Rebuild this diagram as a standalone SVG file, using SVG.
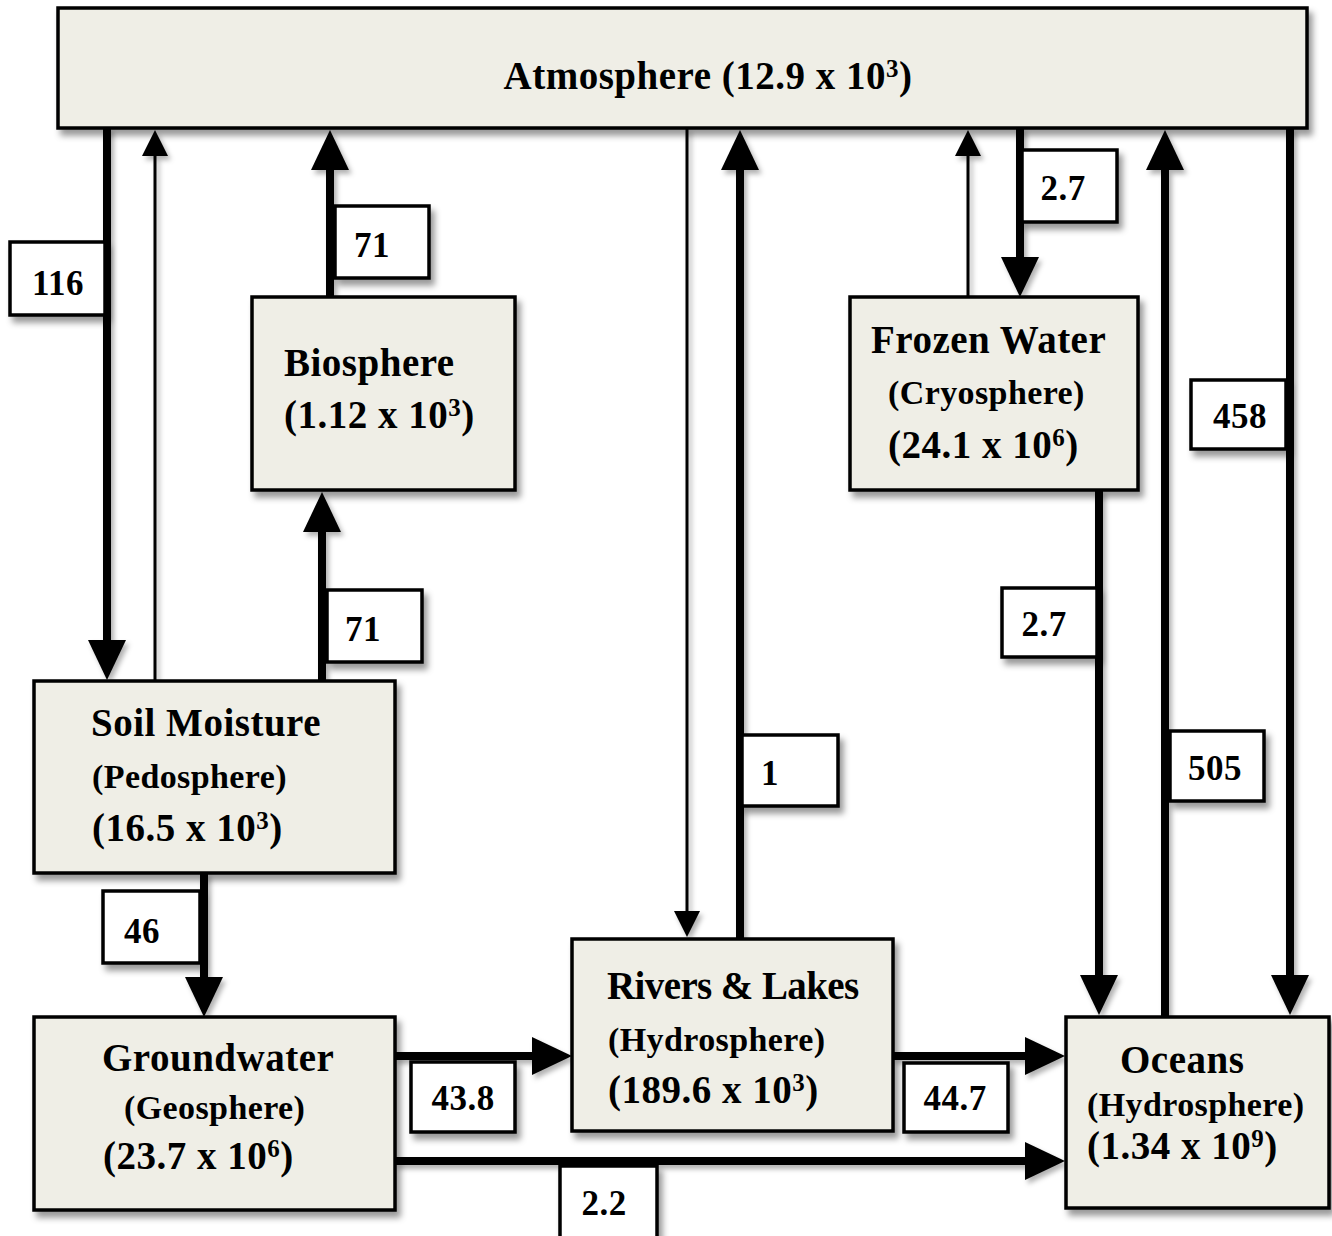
<svg xmlns="http://www.w3.org/2000/svg" width="1332" height="1236" viewBox="0 0 1332 1236">
<style>
.node{fill:#EFEEE6;stroke:#000;stroke-width:3.5}
.lbl{fill:#fff;stroke:#000;stroke-width:3.5}
.t{font-family:"Liberation Serif","DejaVu Serif",serif;font-weight:bold;fill:#000}
.big{font-size:39px;letter-spacing:0.5px}
.sub{font-size:34px;letter-spacing:0.4px}
.num{font-size:35px;text-anchor:middle;letter-spacing:0.5px}
.sup{font-size:25px}
.thick{stroke:#000;stroke-width:8;fill:none}
.thin{stroke:#000;stroke-width:3;fill:none}
</style>
<defs>
<filter id="sh" x="-20%" y="-20%" width="140%" height="140%">
<feDropShadow dx="4" dy="6" stdDeviation="3" flood-color="#000" flood-opacity="0.4"/>
</filter>
<filter id="shl" x="-50%" y="-5%" width="200%" height="110%">
<feDropShadow dx="3" dy="4" stdDeviation="2.5" flood-color="#000" flood-opacity="0.3"/>
</filter>
<marker id="hb" markerUnits="userSpaceOnUse" markerWidth="42" markerHeight="40" refX="0" refY="20" orient="auto" viewBox="0 0 42 40">
<path d="M0,1 L40,20 L0,39 z" fill="#000"/>
</marker>
<marker id="hs" markerUnits="userSpaceOnUse" markerWidth="28" markerHeight="28" refX="0" refY="14" orient="auto" viewBox="0 0 28 28">
<path d="M0,1 L26,14 L0,27 z" fill="#000"/>
</marker>
</defs>
<rect width="1332" height="1236" fill="#fff"/>
<g id="connectors">
<g filter="url(#shl)">
<line class="thick" x1="107" y1="128" x2="107" y2="640" marker-end="url(#hb)"/>
<line class="thin" x1="155" y1="681" x2="155" y2="156" marker-end="url(#hs)"/>
<line class="thick" x1="330" y1="297" x2="330" y2="170" marker-end="url(#hb)"/>
<line class="thick" x1="322" y1="681" x2="322" y2="532" marker-end="url(#hb)"/>
<line class="thin" x1="687" y1="128" x2="687" y2="911" marker-end="url(#hs)"/>
<line class="thick" x1="740" y1="939" x2="740" y2="170" marker-end="url(#hb)"/>
<line class="thin" x1="968" y1="297" x2="968" y2="156" marker-end="url(#hs)"/>
<line class="thick" x1="1020" y1="128" x2="1020" y2="257" marker-end="url(#hb)"/>
<line class="thick" x1="1099" y1="490" x2="1099" y2="975" marker-end="url(#hb)"/>
<line class="thick" x1="1165" y1="1017" x2="1165" y2="170" marker-end="url(#hb)"/>
<line class="thick" x1="1290" y1="128" x2="1290" y2="975" marker-end="url(#hb)"/>
<line class="thick" x1="204" y1="873" x2="204" y2="977" marker-end="url(#hb)"/>
<line class="thick" x1="395" y1="1056" x2="532" y2="1056" marker-end="url(#hb)"/>
<line class="thick" x1="893" y1="1056" x2="1025" y2="1056" marker-end="url(#hb)"/>
<line class="thick" x1="395" y1="1161" x2="1025" y2="1161" marker-end="url(#hb)"/>
</g>
<g filter="url(#sh)">
<rect class="lbl" x="10" y="242" width="95" height="73"/>
<rect class="lbl" x="335" y="206" width="94" height="72"/>
<rect class="lbl" x="327" y="590" width="95" height="72"/>
<rect class="lbl" x="1022" y="150" width="95" height="72"/>
<rect class="lbl" x="1191" y="380" width="95" height="69"/>
<rect class="lbl" x="1002" y="588" width="95" height="69"/>
<rect class="lbl" x="742" y="735" width="96" height="71"/>
<rect class="lbl" x="1170" y="731" width="94" height="70"/>
<rect class="lbl" x="103" y="891" width="97" height="72"/>
<rect class="lbl" x="411" y="1062" width="104" height="70"/>
<rect class="lbl" x="904" y="1063" width="104" height="69"/>
<rect class="lbl" x="560" y="1166" width="97" height="74"/>
</g>
<g class="t">
<text class="num" x="58" y="295">116</text>
<text class="num" x="372" y="257">71</text>
<text class="num" x="363" y="641">71</text>
<text class="num" x="1063" y="200">2.7</text>
<text class="num" x="1240" y="428">458</text>
<text class="num" x="1044" y="636">2.7</text>
<text class="num" x="770" y="785">1</text>
<text class="num" x="1215" y="780">505</text>
<text class="num" x="142" y="943">46</text>
<text class="num" x="463" y="1110">43.8</text>
<text class="num" x="955" y="1110">44.7</text>
<text class="num" x="604" y="1215">2.2</text>
</g>
</g>
<g id="atmosphere">
<rect class="node" x="58" y="8" width="1249" height="120" filter="url(#sh)"/>
<text class="t big" x="708" y="89" text-anchor="middle">Atmosphere (12.9 x 10<tspan class="sup" dy="-12">3</tspan><tspan dy="12">)</tspan></text>
</g>
<g id="biosphere">
<rect class="node" x="252" y="297" width="263" height="193" filter="url(#sh)"/>
<text class="t big" x="284" y="376">Biosphere</text>
<text class="t big" x="284" y="428">(1.12 x 10<tspan class="sup" dy="-12">3</tspan><tspan dy="12">)</tspan></text>
</g>
<g id="frozen">
<rect class="node" x="850" y="297" width="288" height="193" filter="url(#sh)"/>
<text class="t big" x="871" y="353">Frozen Water</text>
<text class="t sub" x="888" y="404">(Cryosphere)</text>
<text class="t big" x="888" y="458">(24.1 x 10<tspan class="sup" dy="-12">6</tspan><tspan dy="12">)</tspan></text>
</g>
<g id="soil">
<rect class="node" x="34" y="681" width="361" height="192" filter="url(#sh)"/>
<text class="t big" x="91" y="736">Soil Moisture</text>
<text class="t sub" x="92" y="788">(Pedosphere)</text>
<text class="t big" x="92" y="841">(16.5 x 10<tspan class="sup" dy="-12">3</tspan><tspan dy="12">)</tspan></text>
</g>
<g id="groundwater">
<rect class="node" x="34" y="1017" width="361" height="193" filter="url(#sh)"/>
<text class="t big" x="102" y="1071">Groundwater</text>
<text class="t sub" x="124" y="1119">(Geosphere)</text>
<text class="t big" x="103" y="1169">(23.7 x 10<tspan class="sup" dy="-12">6</tspan><tspan dy="12">)</tspan></text>
</g>
<g id="rivers">
<rect class="node" x="572" y="939" width="321" height="192" filter="url(#sh)"/>
<text class="t big" x="607" y="999" style="letter-spacing:-0.6px">Rivers &amp; Lakes</text>
<text class="t sub" x="608" y="1051">(Hydrosphere)</text>
<text class="t big" x="608" y="1103">(189.6 x 10<tspan class="sup" dy="-12">3</tspan><tspan dy="12">)</tspan></text>
</g>
<g id="oceans">
<rect class="node" x="1066" y="1017" width="263" height="191" filter="url(#sh)"/>
<text class="t big" x="1120" y="1073">Oceans</text>
<text class="t sub" x="1087" y="1116">(Hydrosphere)</text>
<text class="t big" x="1087" y="1159">(1.34 x 10<tspan class="sup" dy="-12">9</tspan><tspan dy="12">)</tspan></text>
</g>
</svg>
